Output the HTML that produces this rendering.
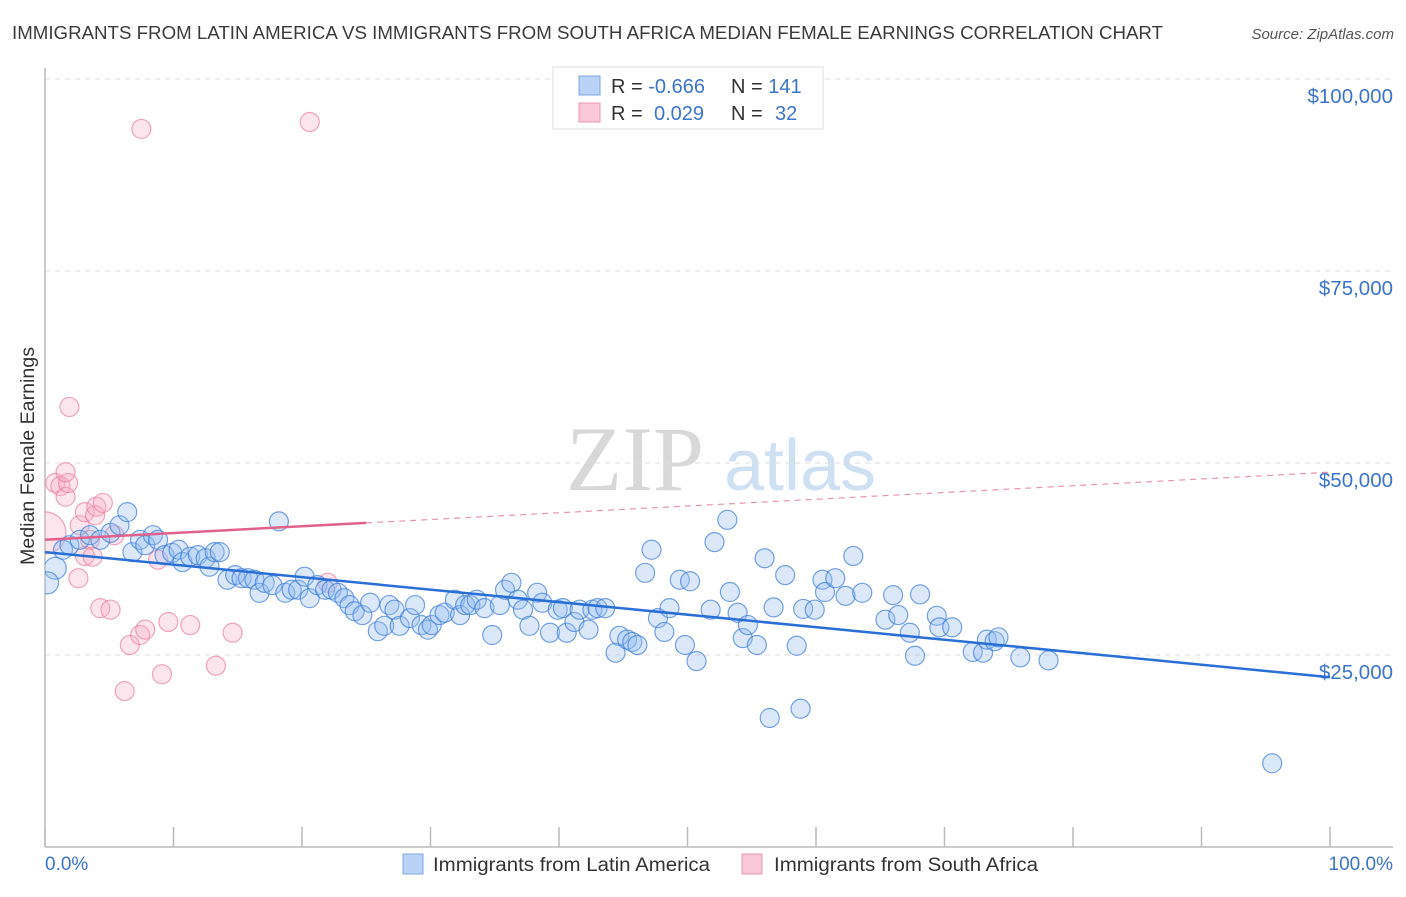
<!DOCTYPE html>
<html><head><meta charset="utf-8"><style>
body{margin:0;background:#fff;font-family:"Liberation Sans",sans-serif;}
</style></head><body>
<svg id="chart" width="1406" height="892" viewBox="0 0 1406 892" xmlns="http://www.w3.org/2000/svg" font-family="Liberation Sans, sans-serif">
<defs><clipPath id="plotclip"><rect x="45" y="60" width="1360" height="787"/></clipPath></defs>
<text x="12" y="39" font-size="18" fill="#3b3b3b" textLength="1151" lengthAdjust="spacingAndGlyphs">IMMIGRANTS FROM LATIN AMERICA VS IMMIGRANTS FROM SOUTH AFRICA MEDIAN FEMALE EARNINGS CORRELATION CHART</text>
<text x="1394" y="39" font-size="15" fill="#555" text-anchor="end" font-style="italic">Source: ZipAtlas.com</text>
<g>
<text x="635" y="490" font-size="92" fill="#d8d8d8" font-family="Liberation Serif, serif" text-anchor="middle">ZIP</text>
<text x="800" y="490" font-size="72" fill="#cfe0f3" text-anchor="middle">atlas</text>
</g>
<g id="grid"></g>
<line x1="45" y1="68" x2="45" y2="847" stroke="#bbb" stroke-width="1.5"/>
<line x1="45" y1="847" x2="1393" y2="847" stroke="#bbb" stroke-width="1.5"/>
<g id="xticks"></g>
<text transform="translate(34,456) rotate(-90)" font-size="19" fill="#333" text-anchor="middle" textLength="218" lengthAdjust="spacingAndGlyphs">Median Female Earnings</text>
<text x="45" y="870" font-size="19" fill="#3a75c9">0.0%</text>
<text x="1393" y="870" font-size="19" fill="#3a75c9" text-anchor="end">100.0%</text>
<g id="pts" clip-path="url(#plotclip)"></g>
<g id="trends"></g>
<g>
<rect x="553" y="67" width="270" height="62" fill="#fff" stroke="#ddd"/>
<rect x="579" y="76" width="21" height="19" fill="#b8d3f5" stroke="#7aa8e6"/>
<rect x="579" y="103" width="21" height="19" fill="#fac8d8" stroke="#eb98b2"/>
<text x="611" y="93" font-size="20" fill="#333">R = <tspan fill="#3a75c9">-0.666</tspan></text>
<text x="731" y="93" font-size="20" fill="#333">N = <tspan fill="#3a75c9">141</tspan></text>
<text x="611" y="120" font-size="20" fill="#333">R = <tspan fill="#3a75c9" x="654">0.029</tspan></text>
<text x="731" y="120" font-size="20" fill="#333">N = <tspan fill="#3a75c9" x="775">32</tspan></text>
</g>
<g>
<rect x="403" y="854" width="20" height="20" fill="#b8d3f5" stroke="#7aa8e6"/>
<text x="433" y="871" font-size="19" fill="#333" textLength="277" lengthAdjust="spacingAndGlyphs">Immigrants from Latin America</text>
</g>
<g>
<rect x="742" y="854" width="20" height="20" fill="#fac8d8" stroke="#eb98b2"/>
<text x="774" y="871" font-size="19" fill="#333" textLength="264" lengthAdjust="spacingAndGlyphs">Immigrants from South Africa</text>
</g>
</svg>
<script>
const yTicks=[25000,50000,75000,100000];
const yTickLabels=["$25,000","$50,000","$75,000","$100,000"];
const blueX=[0.8,0.2,1.4,1.9,2.7,3.5,4.3,5.1,5.8,6.4,6.8,7.4,7.8,8.4,8.8,9.3,9.9,10.4,10.7,11.3,11.9,12.5,12.8,13.2,13.6,14.2,14.8,15.3,15.8,16.3,16.7,17.1,17.7,18.2,18.7,19.2,19.7,20.2,20.6,21.2,21.8,22.3,22.8,23.3,23.7,24.1,24.7,25.3,25.9,26.4,26.8,27.2,27.6,28.4,28.8,29.3,29.8,30.1,30.7,31.1,31.9,32.3,32.7,33.1,33.6,34.2,34.8,35.4,35.8,36.3,36.8,37.2,37.7,38.3,38.7,39.3,39.9,40.3,40.6,41.2,41.6,42.3,42.6,43.0,43.6,44.4,44.7,45.3,45.7,46.1,46.7,47.2,47.7,48.2,48.6,49.4,49.8,50.2,50.7,51.8,52.1,53.1,53.3,53.9,54.3,54.7,55.4,56.0,56.4,56.7,57.6,58.5,58.8,59.0,59.9,60.5,60.7,61.5,62.3,62.9,63.6,65.4,66.0,66.4,67.3,67.7,68.1,69.4,69.6,70.6,72.2,73.0,73.3,73.9,74.2,75.9,78.1,95.5];
const blueY=[36.3,34.4,38.7,39.3,40.0,40.6,40.0,40.9,41.9,43.6,38.4,40.0,39.3,40.6,40.0,38.0,38.3,38.7,37.1,37.8,38.0,37.6,36.5,38.4,38.4,34.8,35.4,35.0,35.0,34.8,33.1,34.4,34.1,42.4,33.1,33.5,33.5,35.2,32.4,34.1,33.5,33.5,33.1,32.4,31.5,30.7,30.2,31.8,28.1,28.8,31.5,30.9,28.8,29.8,31.5,28.9,28.3,28.9,30.2,30.5,32.2,30.2,31.5,31.5,32.2,31.1,27.6,31.5,33.5,34.4,32.2,30.9,28.8,33.1,31.8,27.9,30.9,31.1,27.9,29.3,30.9,28.3,30.9,31.1,31.1,25.3,27.5,27.0,26.7,26.3,35.7,38.7,29.8,28.0,31.1,34.8,26.3,34.6,24.2,30.9,39.7,42.6,33.2,30.5,27.2,28.9,26.3,37.6,16.8,31.2,35.4,26.2,18.0,31.0,30.9,34.8,33.2,35.0,32.7,37.9,33.1,29.6,32.8,30.2,27.9,24.9,32.9,30.1,28.6,28.6,25.4,25.3,27.0,26.8,27.3,24.7,24.3,10.9];
const pinkX=[0.0,0.8,1.2,1.6,1.8,1.6,1.9,2.6,2.7,3.1,3.5,3.9,4.0,4.3,4.5,5.1,5.4,6.2,6.6,7.4,7.5,7.8,8.8,9.1,9.6,11.3,13.3,14.6,20.6,22.0,3.1,3.7];
const pinkY=[40.9,47.4,47.0,45.6,47.4,48.8,57.3,35.0,41.9,43.6,40.0,43.2,44.3,31.1,44.8,30.9,40.6,20.3,26.3,27.6,93.5,28.3,37.4,22.5,29.3,28.9,23.6,27.9,94.4,34.4,37.9,37.8];
const blueTrend=[38.4,22.1];
const pinkTrend=[40.0,48.8];
const pinkSolidEnd=25;
const NS="http://www.w3.org/2000/svg";
const xs=p=>45+p*12.85;
const ys=v=>655-(v-25000)*192/25000;
const ysk=k=>ys(k*1000);
function mk(t,a,parent){const e=document.createElementNS(NS,t);for(const k in a)e.setAttribute(k,a[k]);parent.appendChild(e);return e;}
const grid=document.getElementById('grid');
yTicks.forEach((v,i)=>{
 const l=mk('line',{x1:45,x2:1393,y1:ys(v),y2:ys(v),stroke:'#ddd','stroke-dasharray':'5,5'},grid);
 
 
 const t=mk('text',{x:1393,y:ys(v)+24,'font-size':20.5,fill:'#3a75c9','text-anchor':'end'},grid);
 t.textContent=yTickLabels[i];
 
 
});
const xt=document.getElementById('xticks');
for(let i=0;i<=10;i++){
 const l=mk('line',{x1:xs(i*10),x2:xs(i*10),y1:827,y2:847,stroke:'#bbb','stroke-width':1.5},xt);
 
 
}
const pts=document.getElementById('pts');
pinkX.forEach((x,i)=>{
 const c=mk('circle',{cx:xs(x),cy:ysk(pinkY[i]),r:i===0?21:9.5,fill:'rgba(247,170,195,0.3)',stroke:'rgba(232,120,155,0.65)','stroke-width':1.2},pts);
 
 
});
blueX.forEach((x,i)=>{
 const c=mk('circle',{cx:xs(x),cy:ysk(blueY[i]),r:i<2?11:9.5,fill:'rgba(150,190,240,0.35)',stroke:'rgba(60,125,215,0.7)','stroke-width':1.2},pts);
 
 
});
const tr=document.getElementById('trends');
const bl=mk('line',{x1:xs(0),y1:ysk(blueTrend[0]),x2:xs(100),y2:ysk(blueTrend[1]),stroke:'#2a6fd6','stroke-width':2.5},tr);


const pAt=p=>pinkTrend[0]+(pinkTrend[1]-pinkTrend[0])*p/100;
const ps=mk('line',{x1:xs(0),y1:ysk(pAt(0)),x2:xs(pinkSolidEnd),y2:ysk(pAt(pinkSolidEnd)),stroke:'#e0628c','stroke-width':2.5},tr);


const pd=mk('line',{x1:xs(pinkSolidEnd),y1:ysk(pAt(pinkSolidEnd)),x2:xs(100),y2:ysk(pAt(100)),stroke:'#e896b0','stroke-width':1.2,'stroke-dasharray':'6,5'},tr);


</script>
</body></html>
